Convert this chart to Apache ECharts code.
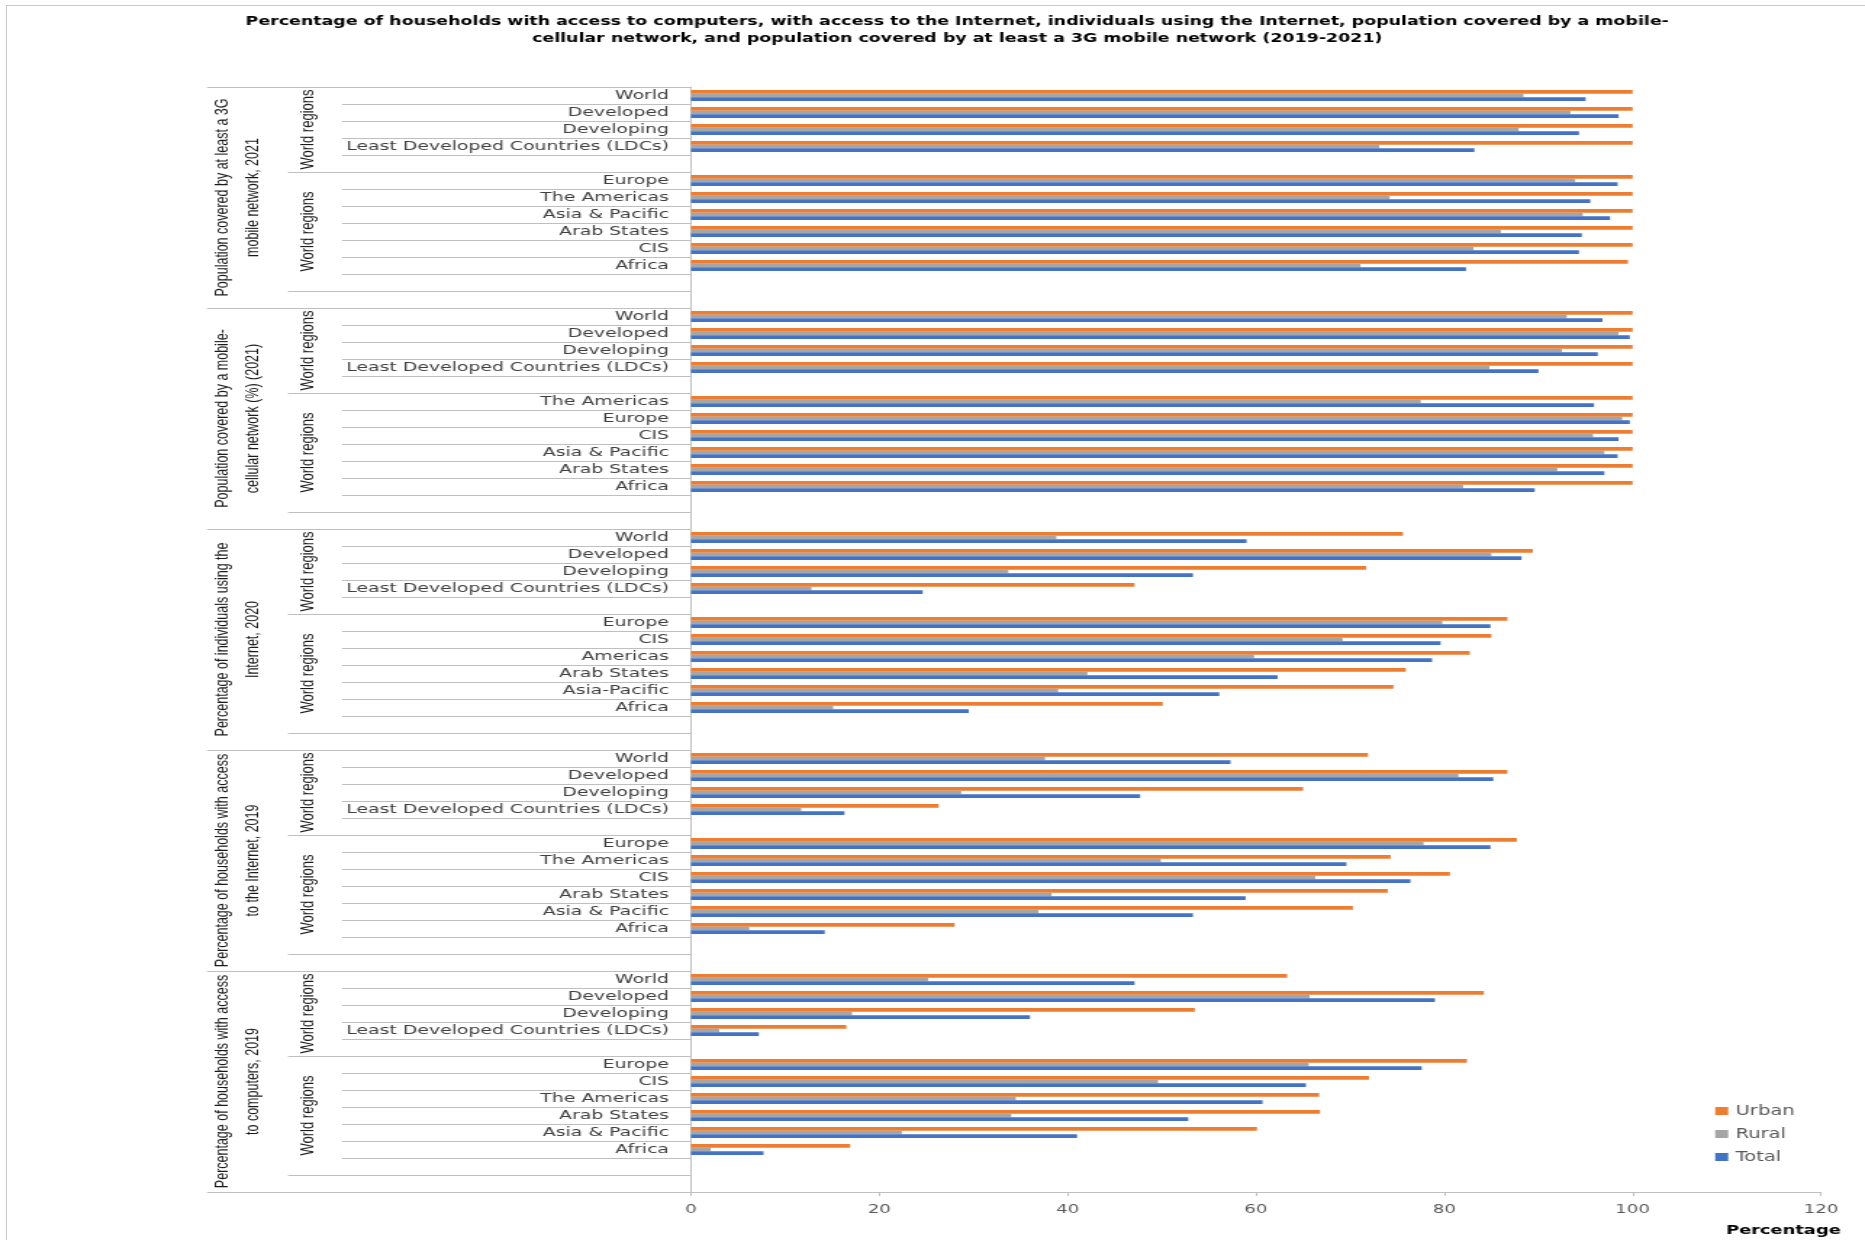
<!DOCTYPE html>
<html>
<head>
<meta charset="utf-8">
<title>ICT access by region</title>
<script src="https://cdn.jsdelivr.net/npm/echarts@6/dist/echarts.min.js"></script>
<style>
  html, body { margin: 0; padding: 0; background: #fff; overflow: hidden; }
  /* the source picture is an Excel chart stretched sideways, so the canvas is drawn narrower and widened */
  #chart { width: 1286px; height: 1240px; transform: scaleX(1.4502); transform-origin: 0 0; }
  .frame {
    position: absolute; left: 6px; top: 5px; right: 0; bottom: 0;
    border-left: 1px solid #c8c8c8; border-top: 1px solid #c8c8c8;
    pointer-events: none;
  }
</style>
</head>
<body>
<div id="chart"></div>
<div class="frame"></div>
<script>
// section titles (outer category level) and the middle level label
const sectionTitles = [
  'Population covered by at least a 3G\nmobile network, 2021',
  'Population covered by a mobile-\ncellular network (%) (2021)',
  'Percentage of individuals using the\nInternet, 2020',
  'Percentage of households with access\nto the Internet, 2019',
  'Percentage of households with access\nto computers, 2019'
]
const groupLabel = 'World regions'

// 3G coverage 2021
const regions3G = ['World', 'Developed', 'Developing', 'Least Developed Countries (LDCs)', 'Europe', 'The Americas', 'Asia & Pacific', 'Arab States', 'CIS', 'Africa']
const urban3G = [100, 100, 100, 100, 100, 100, 100, 100, 100, 99.5]
const rural3G = [88.4, 93.4, 87.9, 73.1, 93.9, 74.2, 94.7, 86.0, 83.1, 71.1]
const total3G = [95.0, 98.5, 94.3, 83.2, 98.4, 95.5, 97.6, 94.6, 94.3, 82.3]

// mobile-cellular coverage 2021
const regionsMobile = ['World', 'Developed', 'Developing', 'Least Developed Countries (LDCs)', 'The Americas', 'Europe', 'CIS', 'Asia & Pacific', 'Arab States', 'Africa']
const urbanMobile = [100, 100, 100, 100, 100, 100, 100, 100, 100, 100]
const ruralMobile = [93.0, 98.5, 92.5, 84.8, 77.5, 98.9, 95.8, 97.0, 92.0, 82.0]
const totalMobile = [96.8, 99.7, 96.3, 90.0, 95.9, 99.7, 98.5, 98.4, 97.0, 89.6]

// individuals using the Internet 2020
const regionsUsers = ['World', 'Developed', 'Developing', 'Least Developed Countries (LDCs)', 'Europe', 'CIS', 'Americas', 'Arab States', 'Asia-Pacific', 'Africa']
const urbanUsers = [75.6, 89.4, 71.7, 47.1, 86.7, 85.0, 82.7, 75.9, 74.6, 50.1]
const ruralUsers = [38.8, 85.0, 33.7, 12.8, 79.8, 69.2, 59.8, 42.1, 39.0, 15.1]
const totalUsers = [59.0, 88.2, 53.3, 24.6, 84.9, 79.6, 78.7, 62.3, 56.1, 29.5]

// households with Internet access 2019
const regionsHhNet = ['World', 'Developed', 'Developing', 'Least Developed Countries (LDCs)', 'Europe', 'The Americas', 'CIS', 'Arab States', 'Asia & Pacific', 'Africa']
const urbanHhNet = [71.9, 86.7, 65.0, 26.3, 87.7, 74.3, 80.6, 74.0, 70.3, 28.0]
const ruralHhNet = [37.6, 81.5, 28.7, 11.7, 77.8, 49.9, 66.3, 38.3, 36.9, 6.2]
const totalHhNet = [57.3, 85.2, 47.7, 16.3, 84.9, 69.6, 76.4, 58.9, 53.3, 14.2]

// households with a computer 2019
const regionsHhPc = ['World', 'Developed', 'Developing', 'Least Developed Countries (LDCs)', 'Europe', 'CIS', 'The Americas', 'Arab States', 'Asia & Pacific', 'Africa']
const urbanHhPc = [63.3, 84.2, 53.5, 16.5, 82.4, 72.0, 66.7, 66.8, 60.1, 16.9]
const ruralHhPc = [25.2, 65.7, 17.1, 3.0, 65.6, 49.6, 34.5, 34.0, 22.4, 2.1]
const totalHhPc = [47.1, 79.0, 36.0, 7.2, 77.6, 65.3, 60.7, 52.8, 41.0, 7.7]

const xTicks = { min: 0, max: 120, step: 20 }

const sections = [
  [regions3G, urban3G, rural3G, total3G],
  [regionsMobile, urbanMobile, ruralMobile, totalMobile],
  [regionsUsers, urbanUsers, ruralUsers, totalUsers],
  [regionsHhNet, urbanHhNet, ruralHhNet, totalHhNet],
  [regionsHhPc, urbanHhPc, ruralHhPc, totalHhPc]
]

// each section: 4 aggregates, blank, 6 regions, blank, blank  -> 13 rows
const ROWS = 13
function pad(arr, blank) {
  return arr.slice(0, 4).concat([blank], arr.slice(4), [blank, blank])
}
var categories = []
var urban = []
var rural = []
var total = []
sections.forEach(function (s) {
  categories = categories.concat(pad(s[0], ''))
  urban = urban.concat(pad(s[1], null))
  rural = rural.concat(pad(s[2], null))
  total = total.concat(pad(s[3], null))
})

// page x -> canvas x (canvas is widened by css)
const SX = 1865 / 1286
function px(x) { return x / SX }

const lineColor = '#bfbfbf'
const rotFont = "'Liberation Sans', Arial, sans-serif"

var chart = echarts.init(document.getElementById('chart'))
chart.setOption({
  animation: false,
  title: [
    {
      text: 'Percentage of households with access to computers, with access to the Internet, individuals using the Internet, population covered by a mobile-\ncellular network, and population covered by at least a 3G mobile network (2019-2021)',
      left: px(950),
      top: 8,
      textAlign: 'center',
      textStyle: { fontFamily: 'DejaVu Sans', fontWeight: 'bold', fontSize: 12, lineHeight: 17, color: '#000' }
    },
    {
      text: 'Percentage',
      left: px(1726),
      top: 1225,
      padding: 0,
      textStyle: { fontFamily: 'DejaVu Sans', fontWeight: 'bold', fontSize: 12.3, color: '#000' }
    }
  ],
  legend: {
    orient: 'vertical',
    left: px(1708),
    top: 1099,
    icon: 'rect',
    itemWidth: px(13),
    itemHeight: 8,
    itemGap: 9,
    textStyle: { fontFamily: 'DejaVu Sans', fontSize: 13.5, color: '#595959' },
    data: ['Urban', 'Rural', 'Total']
  },
  grid: { left: px(691), right: px(44), top: 87, bottom: 48 },
  xAxis: {
    type: 'value',
    min: xTicks.min,
    max: xTicks.max,
    interval: xTicks.step,
    axisLine: { show: true, lineStyle: { color: lineColor } },
    axisTick: { show: true, length: 4, lineStyle: { color: lineColor } },
    splitLine: { show: false },
    axisLabel: { margin: 11, fontFamily: 'DejaVu Sans', fontSize: 12.5, color: '#595959' }
  },
  yAxis: [
    {
      // inner level: region names
      type: 'category',
      data: categories,
      inverse: true,
      position: 'left',
      axisLine: { show: true, onZero: false, lineStyle: { color: lineColor } },
      axisTick: { show: true, interval: 0, length: px(349), lineStyle: { color: lineColor } },
      axisLabel: { interval: 0, margin: px(22), fontFamily: 'DejaVu Sans', fontSize: 13, color: '#404040' }
    },
    {
      // middle level: "World regions"
      type: 'category',
      data: categories,
      inverse: true,
      position: 'left',
      axisLine: { show: false, onZero: false },
      axisTick: {
        show: true,
        length: px(403),
        lineStyle: { color: lineColor },
        interval: function (i) { return i % ROWS === 0 || i % ROWS === 5 || i % ROWS === 12 }
      },
      axisLabel: {
        rotate: 90,
        margin: px(374),
        fontFamily: rotFont,
        fontSize: 13,
        color: '#1a1a1a',
        interval: function (i) { return i % ROWS === 2 || i % ROWS === 8 },
        formatter: function () { return groupLabel }
      }
    },
    {
      // outer level: indicator
      type: 'category',
      data: categories,
      inverse: true,
      position: 'left',
      axisLine: { show: false, onZero: false },
      axisTick: {
        show: true,
        length: px(484),
        lineStyle: { color: lineColor },
        interval: function (i) { return i % ROWS === 0 }
      },
      axisLabel: {
        rotate: 90,
        margin: px(423),
        fontFamily: rotFont,
        fontSize: 12.5,
        lineHeight: px(30),
        color: '#1a1a1a',
        interval: function (i) { return i % ROWS === 6 },
        formatter: function (v, i) { return sectionTitles[Math.floor(i / ROWS)] }
      }
    }
  ],
  series: [
    { name: 'Urban', type: 'bar', data: urban, itemStyle: { color: '#ED7D31' }, barGap: '0%', barCategoryGap: '35%' },
    { name: 'Rural', type: 'bar', data: rural, itemStyle: { color: '#A5A5A5' }, barGap: '0%', barCategoryGap: '35%' },
    { name: 'Total', type: 'bar', data: total, itemStyle: { color: '#4472C4' }, barGap: '0%', barCategoryGap: '35%' }
  ]
})
</script>
</body>
</html>
